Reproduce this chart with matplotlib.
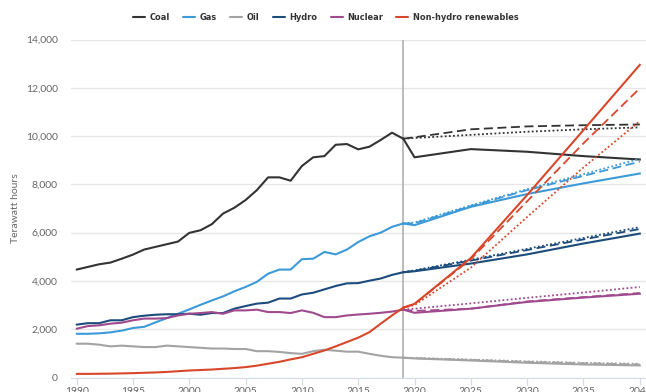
import matplotlib.pyplot as plt
from matplotlib.ticker import FuncFormatter

plt.rcParams['font.family'] = ['Lato', 'DejaVu Sans']

years = list(range(1990, 2020))
proj_years = [2019, 2020, 2025, 2030, 2035, 2040]

# historic generation, TWh
coal = [4470, 4580, 4690, 4760, 4920, 5090, 5300, 5410, 5520, 5630, 5990, 6100, 6350, 6790, 7030,
        7350, 7760, 8290, 8290, 8150, 8760, 9120, 9170, 9640, 9670, 9450, 9560, 9840, 10140, 9890]
gas = [1810, 1810, 1830, 1870, 1940, 2050, 2100, 2280, 2460, 2640, 2820, 3010, 3190, 3360, 3570,
       3750, 3960, 4300, 4470, 4470, 4900, 4920, 5200, 5100, 5300, 5610, 5850, 6000, 6240, 6380]
oil = [1400, 1400, 1360, 1290, 1320, 1290, 1260, 1260, 1320, 1290, 1260, 1230, 1200, 1200, 1180,
       1180, 1090, 1090, 1060, 1010, 980, 1090, 1150, 1110, 1070, 1070, 980, 900, 840, 820]
hydro = [2190, 2250, 2250, 2370, 2370, 2500, 2560, 2600, 2620, 2620, 2640, 2600, 2670, 2670, 2850,
         2960, 3060, 3100, 3270, 3270, 3440, 3510, 3650, 3790, 3900, 3910, 4010, 4100, 4250, 4360]
nuclear = [2020, 2130, 2160, 2230, 2270, 2370, 2440, 2440, 2460, 2570, 2640, 2670, 2710, 2640, 2780,
           2780, 2810, 2710, 2710, 2670, 2780, 2680, 2500, 2500, 2570, 2610, 2640, 2680, 2730, 2810]
renewables = [150, 150, 155, 160, 170, 180, 195, 210, 230, 260, 290, 310, 330, 360, 390,
              430, 490, 570, 650, 750, 840, 980, 1120, 1290, 1470, 1650, 1880, 2230, 2570, 2890]

# projections: solid / dashed / dotted scenarios
coal_proj = [[9890, 9120, 9460, 9350, 9170, 9030],
             [9890, 9950, 10280, 10400, 10450, 10480],
             [9890, 9920, 10050, 10180, 10280, 10360]]
gas_proj = [[6380, 6310, 7070, 7600, 8040, 8450],
            [6380, 6390, 7100, 7760, 8350, 8940],
            [6380, 6420, 7130, 7800, 8420, 9060]]
oil_proj = [[820, 790, 705, 610, 540, 500],
            [820, 800, 730, 650, 590, 540],
            [820, 810, 745, 670, 610, 570]]
hydro_proj = [[4360, 4400, 4720, 5100, 5550, 5960],
              [4360, 4420, 4840, 5280, 5720, 6150],
              [4360, 4440, 4880, 5330, 5780, 6230]]
nuclear_proj = [[2810, 2680, 2850, 3130, 3310, 3470],
                [2810, 2760, 2850, 3150, 3330, 3500],
                [2810, 2850, 3070, 3300, 3520, 3750]]
renewables_proj = [[2890, 3050, 4950, 7560, 10250, 12950],
                   [2890, 3050, 4900, 7300, 9700, 11980],
                   [2890, 3000, 4550, 6650, 8700, 10620]]

labels = ['Coal', 'Gas', 'Oil', 'Hydro', 'Nuclear', 'Non-hydro renewables']
colors = ['#333333', '#3d9ad8', '#a3a3a3', '#1c4c7c', '#a04a8e', '#d8472b']
history = [coal, gas, oil, hydro, nuclear, renewables]
projections = [coal_proj, gas_proj, oil_proj, hydro_proj, nuclear_proj, renewables_proj]

fig = plt.figure(figsize=(6.46, 3.92), dpi=100)
ax = fig.add_axes([71 / 646, 1 - 377.5 / 392, 1 - 71 / 646, (377.5 - 39.5) / 392])

styles = ['-', (0, (5, 2.5)), (0, (1, 1.3))]
handles = []
for lab, col, hist, proj in zip(labels, colors, history, projections):
    h, = ax.plot(years, hist, color=col, lw=1.5, solid_capstyle='round', zorder=3)
    handles.append(h)
    for ls, series in zip(styles, proj):
        ax.plot(proj_years, series, color=col, lw=1.5 if ls == '-' else 1.3,
                linestyle=ls, zorder=3)

ax.axvline(2019, color='#aaaaaa', lw=1.1, zorder=2)

ax.set_xlim(1989.5, 2040.55)
ax.set_ylim(0, 14000)
ax.set_xticks(range(1990, 2041, 5))
ax.set_yticks(range(0, 14001, 2000))
ax.yaxis.set_major_formatter(FuncFormatter(lambda v, p: f'{int(v):,}'))
ax.grid(axis='y', color='#e6e6e6', lw=0.9, zorder=0)
for s in ['top', 'right', 'left']:
    ax.spines[s].set_visible(False)
ax.spines['bottom'].set_color('#d5dbe6')
ax.tick_params(axis='y', length=0, pad=9.5, labelsize=7.5, labelcolor='#666666')
ax.tick_params(axis='x', length=5, width=0.9, color='#d5dbe6', pad=2,
               labelsize=7.5, labelcolor='#666666')
ax.set_ylabel('Terawatt hours', fontsize=7.5, color='#666666', labelpad=4)

fig.legend(handles, labels, loc='center', bbox_to_anchor=(0.5046, 1 - 18 / 392), ncol=6,
           frameon=False, handlelength=1.3, handletextpad=0.5, columnspacing=1.45,
           prop={'family': ['DejaVu Sans'], 'stretch': 'condensed', 'weight': 'bold', 'size': 6.6},
           labelcolor='#333333')

fig.savefig('out.png', dpi=100)
